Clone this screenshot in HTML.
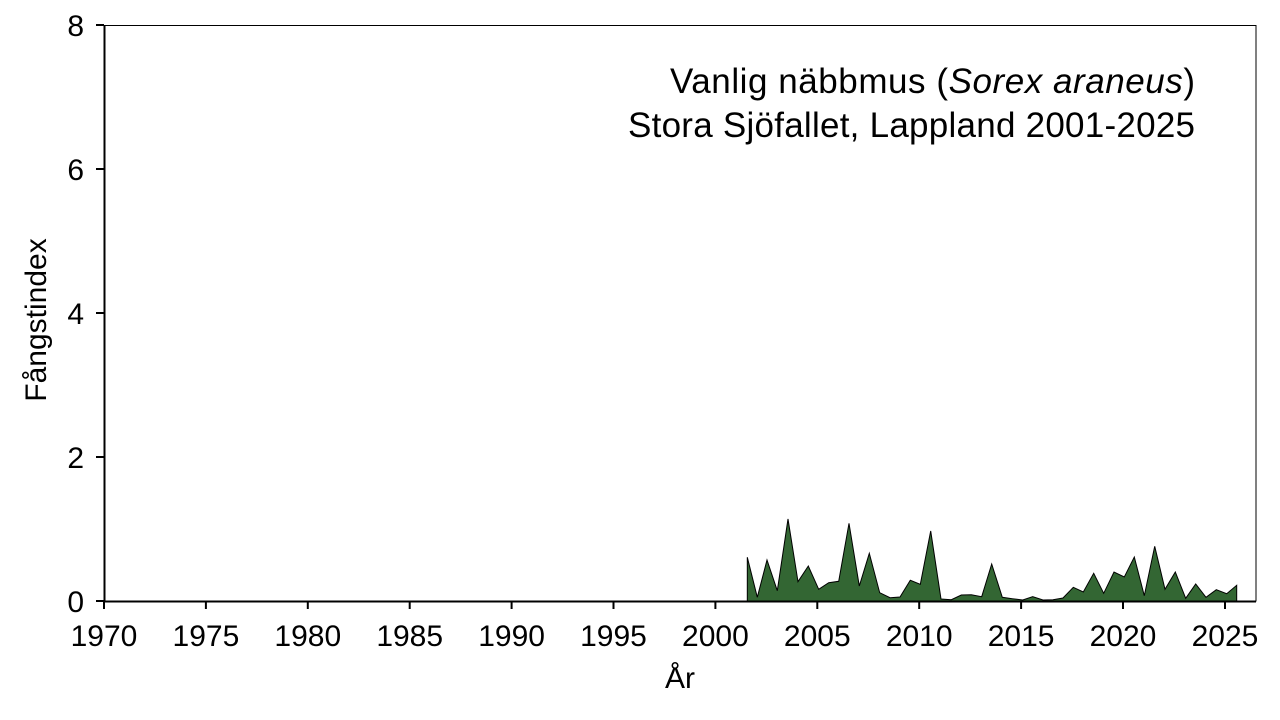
<!DOCTYPE html>
<html><head><meta charset="utf-8"><style>body{margin:0;background:#fff}svg{display:block}text{font-family:"Liberation Sans",sans-serif;fill:#000}</style></head><body>
<svg width="1280" height="720" xmlns="http://www.w3.org/2000/svg">
<polygon fill="#336633" stroke="#000" stroke-width="1" stroke-linejoin="miter" points="747.3,601 747.3,557.3 757.3,597.3 767,560 777.3,590.7 788,519 798,581.7 808.3,566 818.7,589.3 828.7,582.7 838.7,581.3 849,523.3 859.3,586 869.3,553.3 879.7,592.7 890,597.7 900,597 910.3,580.3 920.3,584.3 930.7,531 941,599 951.3,599.7 961.3,595 971.3,594.7 981.7,596.7 991.7,564 1002.3,597.3 1012.3,598.7 1022.7,600 1032.7,596.7 1043,600 1053,599.7 1063,598 1073.3,587.3 1083.3,592 1093.7,573.3 1103.7,593.3 1114,572 1124.3,577 1134.3,557 1144.3,595.7 1154.7,546.3 1165,589.3 1175.3,572 1185.7,598.3 1195.7,584 1206,597.3 1216.3,589.7 1226.7,593.7 1236.7,585.3 1236.7,601"/>
<rect x="104.5" y="25.5" width="1151.5" height="575.5" fill="none" stroke="#000" stroke-width="1"/>
<line x1="104" y1="601.5" x2="1256" y2="601.5" stroke="#000" stroke-width="2"/>
<line x1="104.5" y1="25" x2="104.5" y2="601" stroke="#000" stroke-width="2"/>
<g stroke="#000" stroke-width="2">
<line x1="96" y1="601" x2="104" y2="601"/><line x1="96" y1="457" x2="104" y2="457"/><line x1="96" y1="313" x2="104" y2="313"/><line x1="96" y1="169" x2="104" y2="169"/><line x1="96" y1="25" x2="104" y2="25"/>
<line x1="104" y1="601" x2="104" y2="609"/><line x1="205.9" y1="601" x2="205.9" y2="609"/><line x1="307.8" y1="601" x2="307.8" y2="609"/><line x1="409.7" y1="601" x2="409.7" y2="609"/><line x1="511.6" y1="601" x2="511.6" y2="609"/><line x1="613.5" y1="601" x2="613.5" y2="609"/><line x1="715.4" y1="601" x2="715.4" y2="609"/><line x1="817.3" y1="601" x2="817.3" y2="609"/><line x1="919.2" y1="601" x2="919.2" y2="609"/><line x1="1021.1" y1="601" x2="1021.1" y2="609"/><line x1="1123" y1="601" x2="1123" y2="609"/><line x1="1225" y1="601" x2="1225" y2="609"/>
</g>
<g font-size="30" text-anchor="end">
<text x="84" y="612">0</text><text x="84" y="468">2</text><text x="84" y="324">4</text><text x="84" y="180">6</text><text x="84" y="36">8</text>
</g>
<g font-size="30" text-anchor="middle">
<text x="104" y="646">1970</text><text x="205.9" y="646">1975</text><text x="307.8" y="646">1980</text><text x="409.7" y="646">1985</text><text x="511.6" y="646">1990</text><text x="613.5" y="646">1995</text><text x="715.4" y="646">2000</text><text x="817.3" y="646">2005</text><text x="919.2" y="646">2010</text><text x="1021.1" y="646">2015</text><text x="1123" y="646">2020</text><text x="1225" y="646">2025</text>
<text x="680" y="688">År</text>
<text transform="translate(46,320) rotate(-90)">Fångstindex</text>
</g>
<g font-size="35">
<text x="670" y="93" textLength="525">Vanlig näbbmus (<tspan font-style="italic">Sorex araneus</tspan>)</text>
<text x="628" y="137" textLength="567">Stora Sjöfallet, Lappland 2001-2025</text>
</g>
</svg>
</body></html>
